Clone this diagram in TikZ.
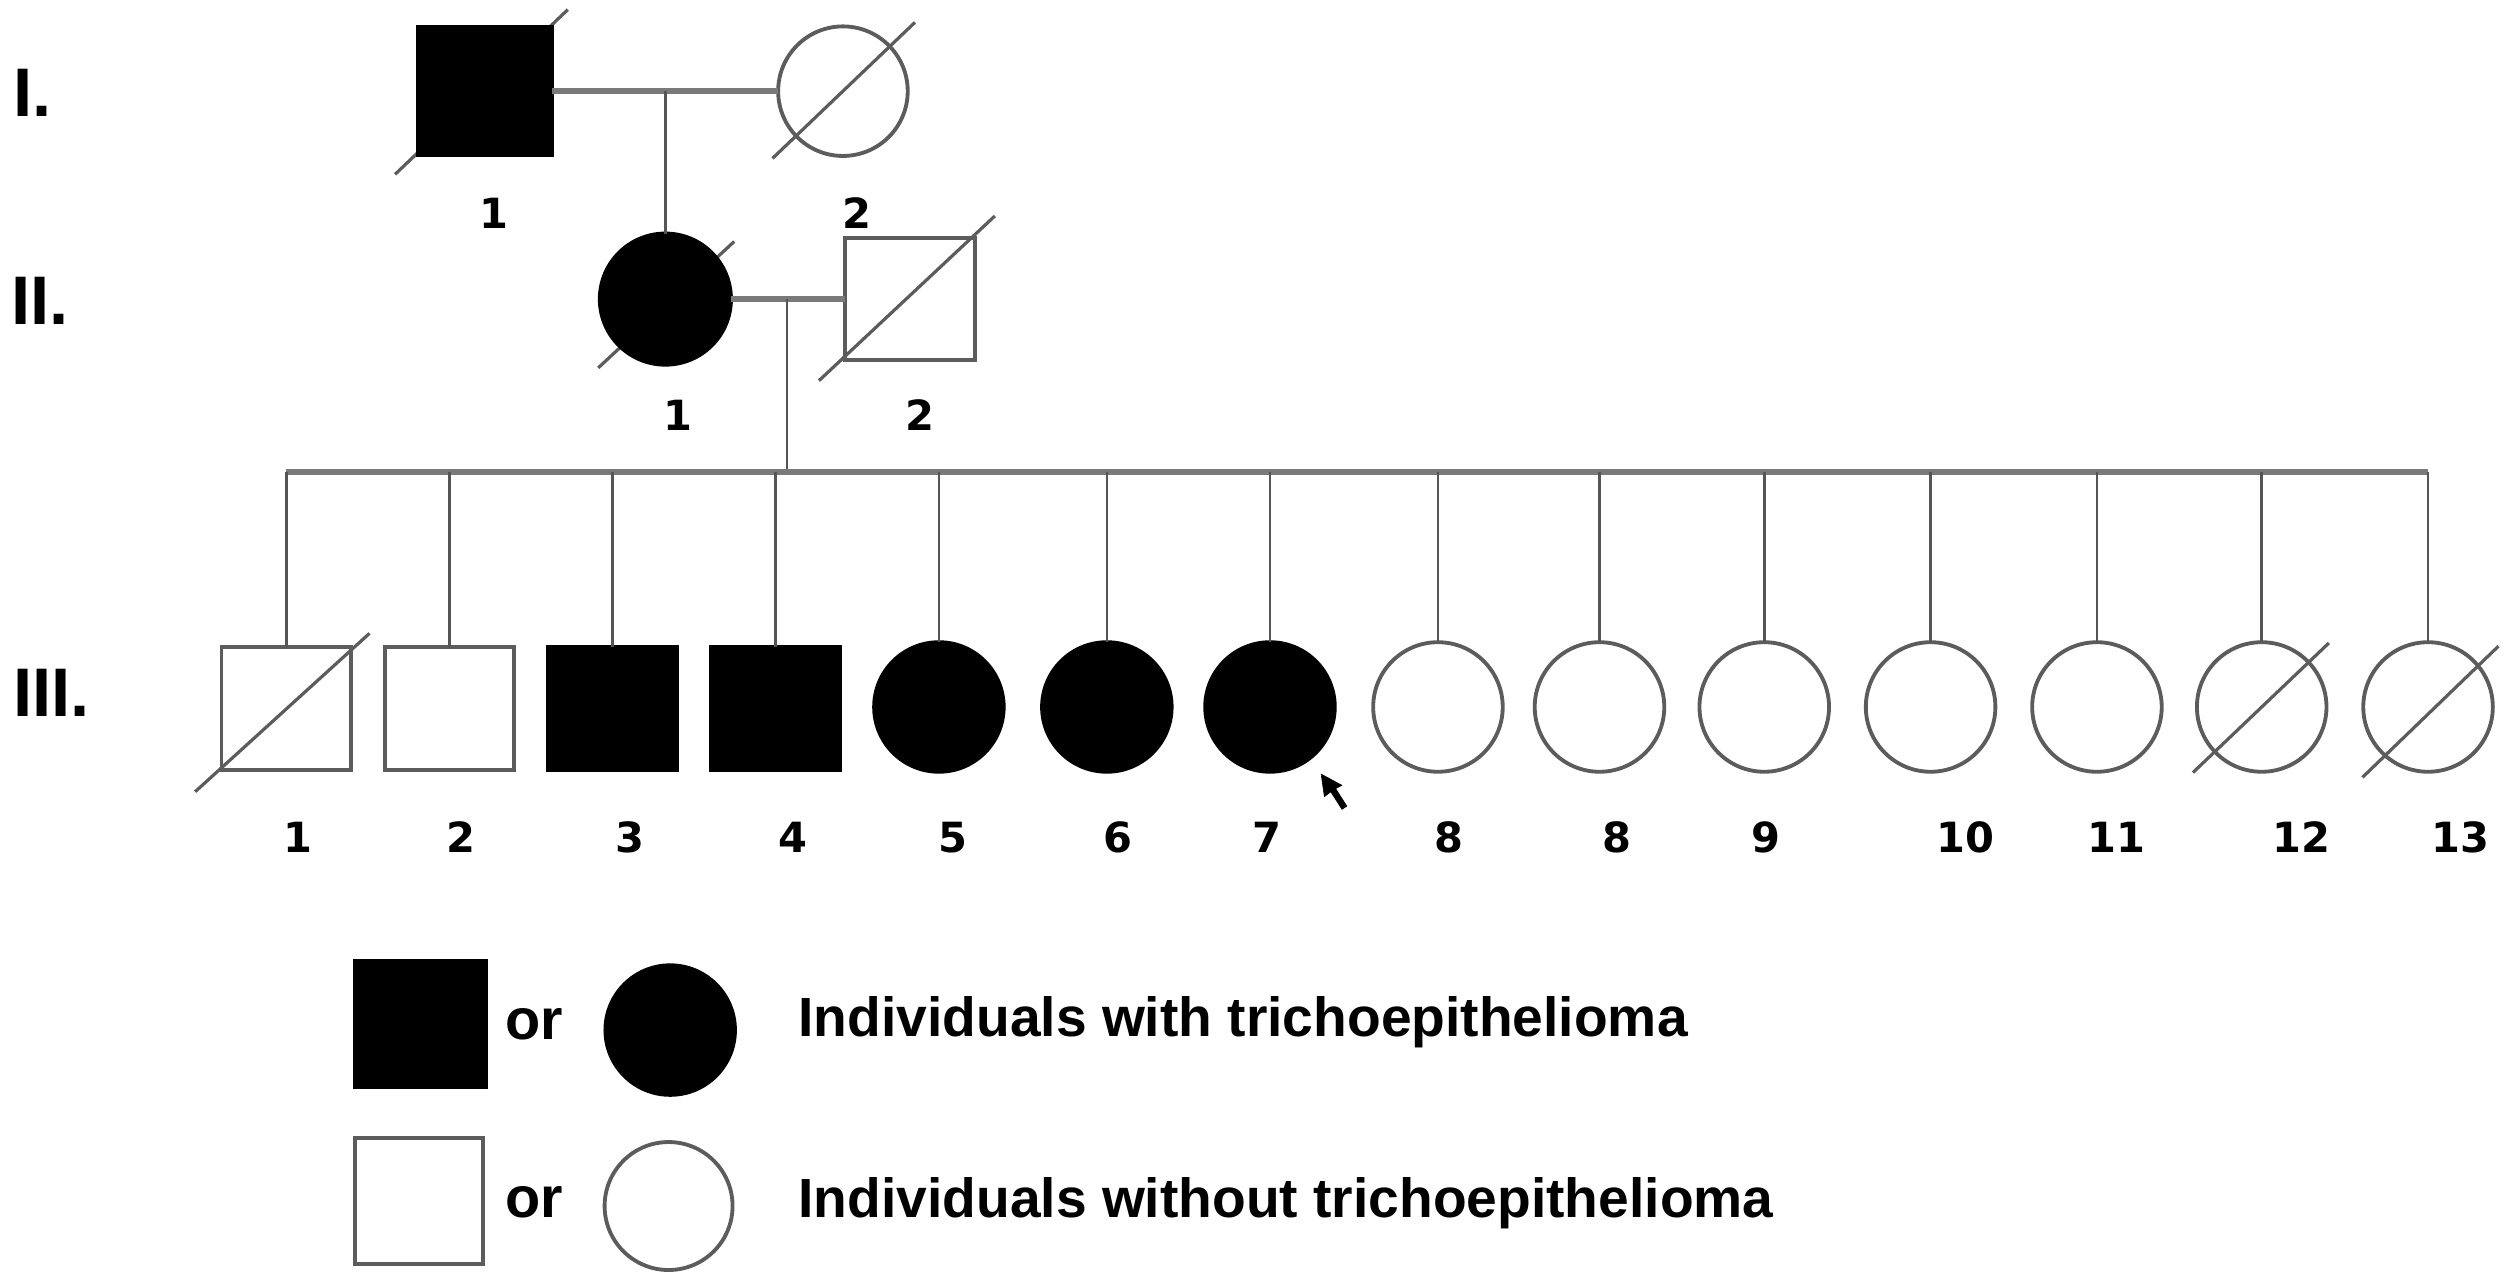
\documentclass[tikz,border=0pt]{standalone}
\usepackage{fontspec}
\setmainfont{Liberation Sans}
\newfontfamily\numfont{DejaVu Sans}
\usetikzlibrary{backgrounds,calc}
\definecolor{symgray}{HTML}{5C5C5C}
\definecolor{linegray}{HTML}{555555}
\definecolor{mgray}{HTML}{7A7A7A}
\begin{document}
\begin{tikzpicture}[x=1pt,y=-1pt,
  sym/.style={draw=symgray, line width=2.4pt, inner sep=0pt, outer sep=0pt},
  male/.style={sym, rectangle, minimum width=81pt, minimum height=77pt},
  female/.style={sym, circle, minimum size=81pt},
  aff/.style={fill=black, draw=black},
  conn/.style={draw=linegray, line width=1.6pt},
  mline/.style={draw=mgray, line width=3.4pt},
  slash/.style={draw=symgray, line width=2pt},
  num/.style={font=\numfont\bfseries\fontsize{26}{30}\selectfont, anchor=base, inner sep=0pt},
  genlbl/.style={font=\bfseries\fontsize{43}{45}\selectfont, anchor=base west, inner sep=0pt},
  legtxt/.style={font=\bfseries\fontsize{34.5}{38}\selectfont, anchor=base west, inner sep=0pt},
  ortxt/.style={font=\bfseries\fontsize{36}{40}\selectfont, anchor=base west, inner sep=0pt}
]
\useasboundingbox (0,0) rectangle (1568,800);

% generation labels
\node[genlbl] (gI) at (8,73) {I.};
\node[genlbl] (gII) at (7,203) {II.};
\node[genlbl] (gIII) at (8,448) {III.};

% ---------- generation I ----------
\node[male,aff,minimum width=84pt,minimum height=80pt] (i1) at (303,57) {};
\node[female] (i2) at (527,57) {};
\node[num] (li1) at (309,143) {1};
\node[num] (li2) at (536,143) {2};

% ---------- generation II ----------
\node[female,aff,minimum size=82pt] (ii1) at (416,187) {};
\node[male,minimum height=76pt] (ii2) at (569,187) {};
\node[num] (lii1) at (424,269) {1};
\node[num] (lii2) at (575,269) {2};

% ---------- generation III ----------
\node[male] (c1) at (179,443) {};
\node[male] (c2) at (281,443) {};
\node[male,aff] (c3) at (383,443) {};
\node[male,aff] (c4) at (485,443) {};
\node[female,aff] (c5) at (587,442) {};
\node[female,aff] (c6) at (692,442) {};
\node[female,aff] (c7) at (794,442) {};
\node[female] (c8) at (899,442) {};
\node[female] (c9) at (1000,442) {};
\node[female] (c10) at (1103,442) {};
\node[female] (c11) at (1207,442) {};
\node[female] (c12) at (1311,442) {};
\node[female] (c13) at (1414,442) {};
\node[female] (c14) at (1518,442) {};

\node[num] (l1) at (186,533) {1};
\node[num] (l2) at (288,533) {2};
\node[num] (l3) at (394,533) {3};
\node[num] (l4) at (496,533) {4};
\node[num] (l5) at (596,533) {5};
\node[num] (l6) at (699,533) {6};
\node[num] (l7) at (792,533) {7};
\node[num] (l8) at (906,533) {8};
\node[num] (l9) at (1011,533) {8};
\node[num] (l10) at (1104,533) {9};
\node[num] (l11) at (1229,533) {10};
\node[num] (l12) at (1323,533) {11};
\node[num] (l13) at (1439,533) {12};
\node[num] (l14) at (1538,533) {13};

% ---------- connectors ----------
\coordinate (m1) at (416,57);
\coordinate (m2) at (492,187);
\coordinate (sibL) at (179,295);
\coordinate (sibR) at (1518,295);

\begin{pgfonlayer}{background}
  % death slashes
  \draw[slash] ($(i1.center)+(-56,52)$) -- ($(i1.center)+(52,-51)$);
  \draw[slash] ($(i2.center)+(-44,42)$) -- ($(i2.center)+(45,-43)$);
  \draw[slash] ($(ii1.center)+(-42,43)$) -- ($(ii1.center)+(43,-36)$);
  \draw[slash] ($(ii2.center)+(-57,51)$) -- ($(ii2.center)+(53,-52)$);
  \draw[slash] ($(c1.center)+(-57,52)$) -- ($(c1.center)+(52,-47)$);
  \draw[slash] ($(c13.center)+(-43,41)$) -- ($(c13.center)+(42,-40)$);
  \draw[slash] ($(c14.center)+(-41,44)$) -- ($(c14.center)+(44,-38)$);
\end{pgfonlayer}

\draw[mline] (i1.east) -- (i2.west);
\draw[conn] (m1) -- (ii1.north);
\draw[mline] (ii1.east) -- (ii2.west);
\draw[conn] (m2) -- (m2 |- sibL);
\draw[mline] (sibL) -- (sibR);
\foreach \c in {1,...,14} {
  \draw[conn] (c\c.north |- sibL) -- (c\c.north);
}

% cursor artefact
\filldraw[black] (826,484) -- (828,498) -- (832,495) -- (839,506) -- (842,504) -- (835,493) -- (839,491) -- cycle;

% ---------- legend ----------
\node[male,aff,minimum width=82pt,minimum height=79pt] (la) at (263,640) {};
\node[ortxt] (or1) at (316,650) {or};
\node[female,aff,minimum size=81pt] (lb) at (419,644) {};
\node[legtxt] (t1) at (499,648) {Individuals with trichoepithelioma};

\node[male,minimum width=80pt,minimum height=79pt] (lc) at (262,751) {};
\node[ortxt] (or2) at (316,761) {or};
\node[female,minimum size=80pt] (ld) at (418,754) {};
\node[legtxt] (t2) at (499,761) {Individuals without trichoepithelioma};
\end{tikzpicture}
\end{document}
